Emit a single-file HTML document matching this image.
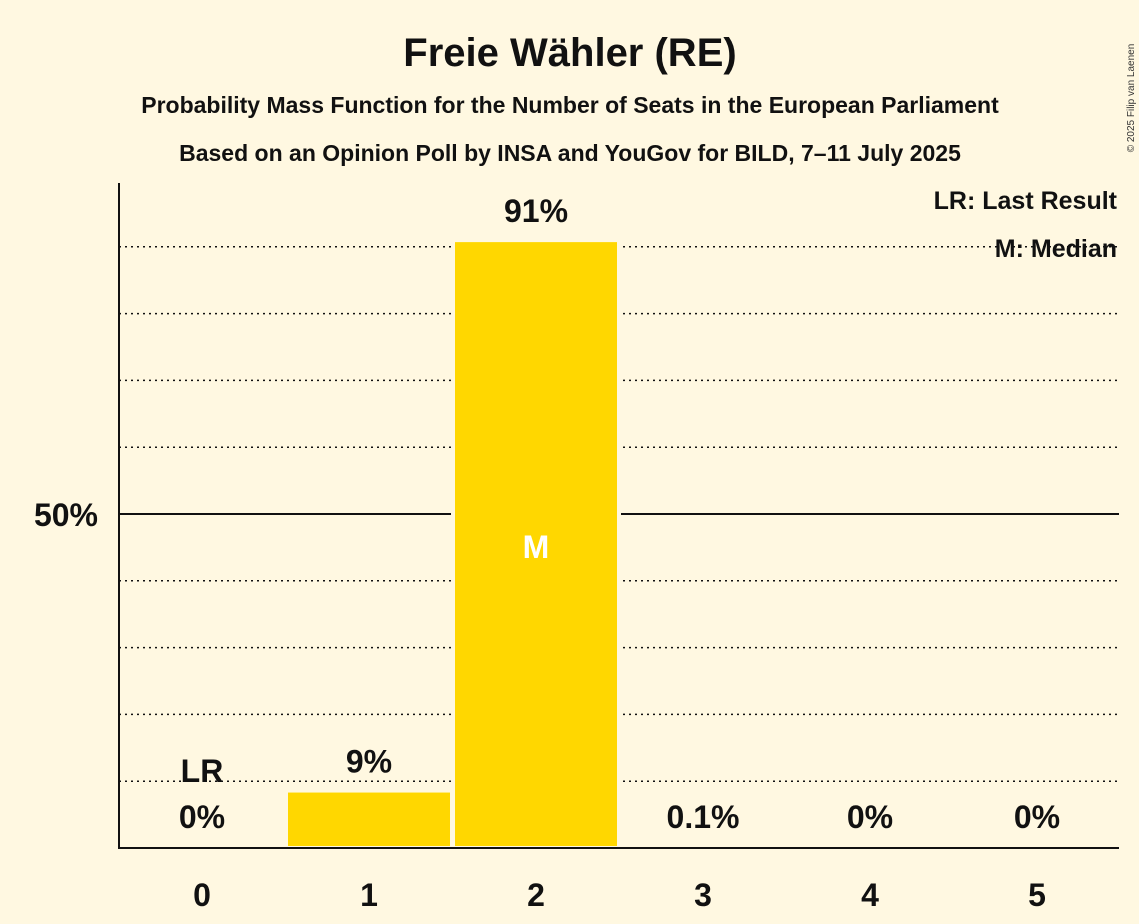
<!DOCTYPE html>
<html><head><meta charset="utf-8"><style>
body{margin:0;background:#FFF8E1;}
svg{display:block;font-family:"Liberation Sans",sans-serif;}
</style></head><body>
<svg id="c" width="1139" height="924">
<rect width="1139" height="924" fill="#FFF8E1"/>
<text x="570" y="66" text-anchor="middle" font-size="40" font-weight="bold" fill="#111">Freie Wähler (RE)</text>
<text x="570" y="113" text-anchor="middle" font-size="23" font-weight="bold" fill="#111">Probability Mass Function for the Number of Seats in the European Parliament</text>
<text x="570" y="161" text-anchor="middle" font-size="23" font-weight="bold" fill="#111">Based on an Opinion Poll by INSA and YouGov for BILD, 7–11 July 2025</text>
<text transform="translate(1134,98) rotate(-90)" text-anchor="middle" font-size="10" fill="#333">© 2025 Filip van Laenen</text>
<g id="grid"></g>
<g id="bars"></g>
<g id="labels"></g>
<line x1="119" y1="183" x2="119" y2="848" stroke="#111" stroke-width="2"/>
<line x1="118" y1="848" x2="1119" y2="848" stroke="#111" stroke-width="2"/>
<text x="98" y="526" text-anchor="end" font-size="32" font-weight="bold" fill="#111">50%</text>
<text x="1117" y="209" text-anchor="end" font-size="25" font-weight="bold" fill="#111">LR: Last Result</text>
<text x="1117" y="257" text-anchor="end" font-size="25" font-weight="bold" fill="#111">M: Median</text>
</svg>
<script>
const seats = [0,1,2,3,4,5];
const probs = [0,8.6,91,0.1,0,0];
const printed = ["0%","9%","91%","0.1%","0%","0%"];
const lastResult = 0;
const median = 2;
const gridTicks = [10,20,30,40,50,60,70,80,90];

const ns="http://www.w3.org/2000/svg";
const y0=848, pxPer=6.68, x0=202, step=167, bw=166;
const ys=v=>y0-v*pxPer, xs=i=>x0+i*step;
function mk(t,a,p){const e=document.createElementNS(ns,t);for(const k in a)e.setAttribute(k,a[k]);p.appendChild(e);return e;}
const G=document.getElementById('grid'),B=document.getElementById('bars'),L=document.getElementById('labels');
gridTicks.forEach(t=>{
  const l=mk('line',{x1:119,x2:1119,y1:ys(t),y2:ys(t),stroke:'#111','stroke-width':t===50?2:1.5,'stroke-dasharray':t===50?'none':'2,4'},G);
  
  
});
seats.forEach((s,i)=>{
  const h=probs[i]*pxPer;
  if(h>0.5){
    const r=mk('rect',{x:xs(i)-bw/2,y:ys(probs[i]),width:bw,height:h,fill:'#FFD700',stroke:'#FFF8E1','stroke-width':4},B);
    
    
  }
  const big=h>40;
  const ty=big?ys(probs[i])-18:ys(0)-20;
  const t=mk('text',{x:xs(i),y:ty,'text-anchor':'middle','font-size':32,'font-weight':'bold',fill:'#111'},L);
  t.textContent=printed[i];
  
  
  const xt=mk('text',{x:xs(i),y:y0+58,'text-anchor':'middle','font-size':32,'font-weight':'bold',fill:'#111'},L);
  xt.textContent=s;
  
  
  if(s===lastResult){
    const lr=mk('text',{x:xs(i),y:ty-46,'text-anchor':'middle','font-size':32,'font-weight':'bold',fill:'#111'},L);
    lr.textContent='LR';
    
    
  }
  if(s===median){
    const m=mk('text',{x:xs(i),y:ys(50)+44,'text-anchor':'middle','font-size':32,'font-weight':'bold',fill:'#fff'},L);
    m.textContent='M';
    
    
  }
});
</script>
</body></html>
